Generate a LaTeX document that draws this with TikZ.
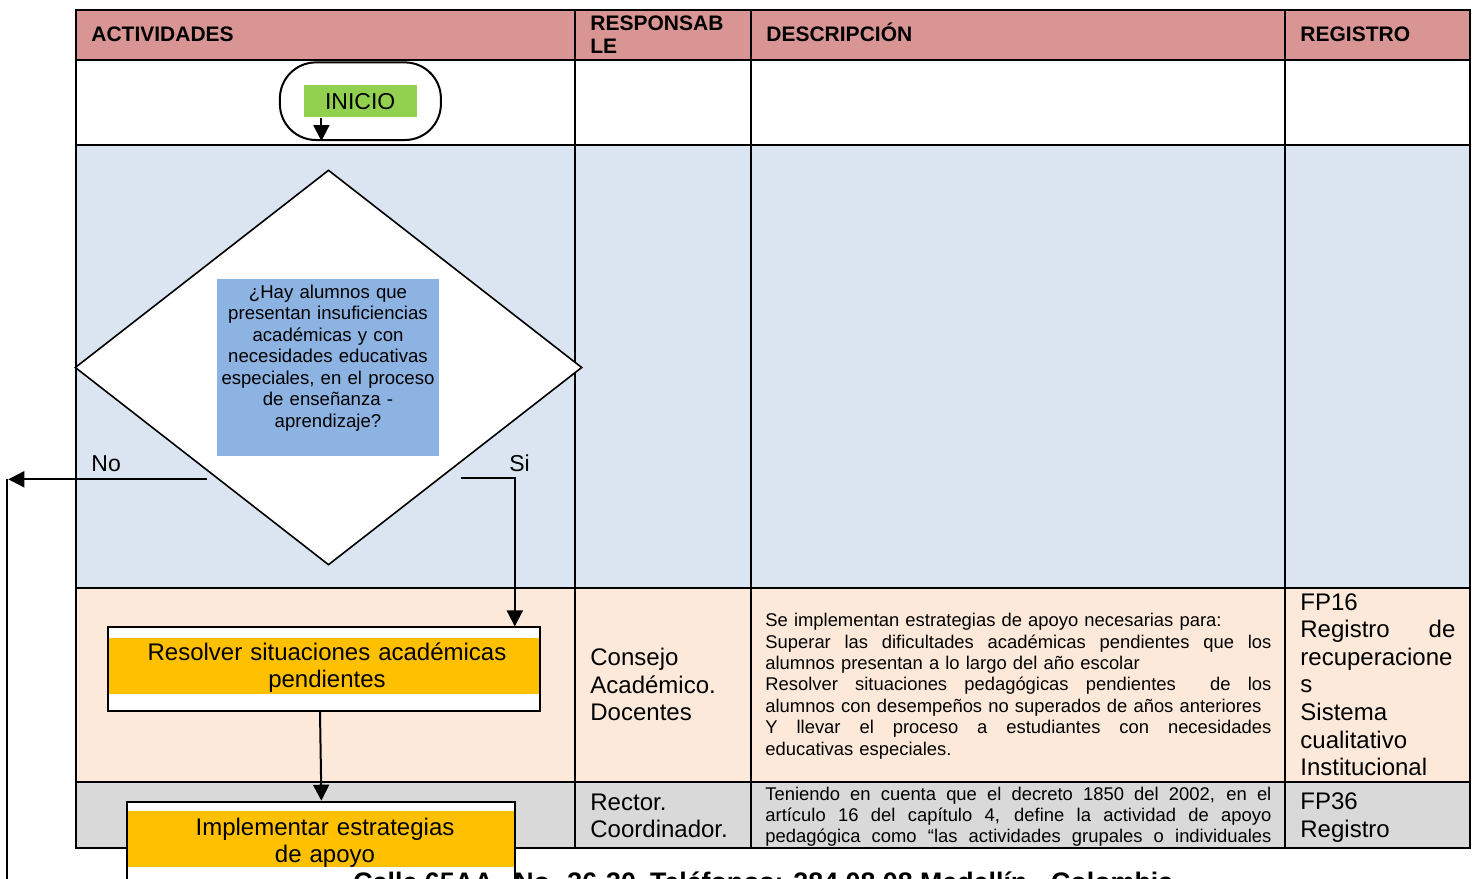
\documentclass[tikz,border=0pt]{standalone}
\usepackage{fontspec}
\setmainfont{Liberation Sans}
\usetikzlibrary{shapes.geometric,arrows.meta}
\definecolor{hdr}{RGB}{217,149,148}
\definecolor{rowblue}{RGB}{219,229,241}
\definecolor{rowpeach}{RGB}{253,233,217}
\definecolor{rowgray}{RGB}{217,217,217}
\definecolor{inigreen}{RGB}{146,208,80}
\definecolor{actorange}{RGB}{255,192,0}
\definecolor{qblue}{RGB}{141,179,226}
\newcommand\jbox[2]{\makebox[#1][s]{\spaceskip=0pt\relax\xspaceskip=0pt\relax #2}}
\newcommand\jl[1]{\jbox{253pt}{#1}}
\begin{document}
\begin{tikzpicture}[x=0.5pt,y=-0.5pt,
  grid/.style={line width=1.3pt},
  conn/.style={line width=1pt},
  arr/.style={line width=1pt,-{Triangle[length=8pt,width=8pt]}},
  hdrtext/.style={font=\fontsize{10.5}{11.4}\selectfont\bfseries, anchor=base west, inner sep=0, text width=90pt, align=left},
  desc/.style={font=\fontsize{9.2}{10.7}\selectfont, anchor=base west, inner sep=0, text width=253pt, align=left},
  big/.style={font=\fontsize{12}{13.8}\selectfont, anchor=base west, inner sep=0, text width=80pt, align=left},
  lbl/.style={font=\fontsize{11.5}{13}\selectfont, anchor=base west, inner sep=0},
  acttext/.style={font=\fontsize{12}{13.9}\selectfont, anchor=base, inner sep=0, text width=210pt, align=center},
  band/.style={fill=actorange, inner sep=0}
]
\useasboundingbox (0,0) rectangle (1477,878);
% row fills
\fill[hdr] (76,10) rectangle (1470,60);
\fill[white] (76,60) rectangle (1470,145);
\fill[rowblue] (76,145) rectangle (1470,588);
\fill[rowpeach] (76,588) rectangle (1470,782);
\fill[rowgray] (76,782) rectangle (1470,848);

% row 4 description (clipped by the row border)
\node[desc] (desc4) at (765,800) {\jl{Teniendo en cuenta que el decreto 1850 del 2002, en el}\\\jl{artículo 16 del capítulo 4, define la actividad de apoyo}\\\jl{pedagógica como “las actividades grupales o individuales}};

% grid
\draw[grid] (76,10) rectangle (1470,848);
\foreach \y in {60,145,588,782} \draw[grid] (76,\y) -- (1470,\y);
\foreach \x in {575,751,1285} \draw[grid] (\x,10) -- (\x,848);

% headers
\node[hdrtext] (hAct) at (91,41.7) {ACTIVIDADES};
\node[hdrtext] (hResp) at (590,30.7) {RESPONSAB\\LE};
\node[hdrtext] (hDesc) at (766,41.7) {DESCRIPCIÓN};
\node[hdrtext] (hReg) at (1300,41.7) {REGISTRO};

% INICIO
\node[draw, line width=1pt, fill=white, rounded corners=18pt, minimum width=80.5pt, minimum height=38.8pt, inner sep=0] (oval) at (360.4,101.2) {};
\node[fill=inigreen, minimum width=56.7pt, minimum height=16.1pt, inner sep=0, font=\fontsize{11.5}{13}\selectfont] (inicio) at (360.2,101.2) {INICIO};
\draw[arr] ([xshift=-19.4pt]inicio.south) -- ([xshift=-19.5pt]oval.south);

% decision
\node[draw, line width=0.8pt, fill=white, diamond, minimum width=253.5pt, minimum height=197.5pt, inner sep=0] (decision) at (328.5,367.5) {};
\node[fill=qblue, minimum width=111pt, minimum height=88.4pt, inner sep=0] (qbox) at (328.3,367.7) {};
\node[font=\fontsize{9.3}{10.75}\selectfont, anchor=base, inner sep=0, text width=110pt, align=center] (qtext) at (328,298.3) {¿Hay alumnos que\\presentan insuficiencias\\académicas y con\\necesidades educativas\\especiales, en el proceso\\de enseñanza -\\aprendizaje?};

\node[lbl] (noLabel) at (91,471.5) {No};
\node[lbl] (siLabel) at (509,471.5) {Si};
\coordinate (noStart) at (207,479.3);
\coordinate (noEnd) at (8.3,479.3);
\coordinate (loopTop) at (7.3,478.5);
\coordinate (loopBottom) at (7.3,900);
\coordinate (siStart) at (460.5,477.7);

% Resolver
\node[draw, line width=1pt, fill=white, minimum width=216.4pt, minimum height=41.8pt, inner sep=0] (resolverbox) at (324,669.2) {};
\node[band, minimum width=215.4pt, minimum height=28.2pt] (resolverband) at (324,665.9) {};
\node[acttext] (resolver) at (327,660) {Resolver situaciones académicas\\pendientes};

% Implementar
\node[draw, line width=1pt, fill=white, minimum width=194pt, minimum height=50pt, inner sep=0, anchor=north] (implbox) at (321,800.7) {};
\node[band, minimum width=193pt, minimum height=28.3pt] (implband) at (321,839) {};
\node[acttext] (impl) at (325,835) {Implementar estrategias\\de apoyo};

% connectors
\draw[arr] (noStart) -- (noEnd);
\draw[conn] (loopBottom) -- (loopTop);
\draw[arr] (siStart) -| ([xshift=95.4pt]resolverbox.north);
\draw[arr] ([xshift=-2pt]resolverbox.south) -- ([xshift=0.2pt]implbox.north);

% responsables
\node[big] (resp3) at (590,665.5) {Consejo\\Académico.\\Docentes};
\node[big] (resp4) at (590,810) {Rector.\\Coordinador.};

% description row 3
\node[desc] (desc3) at (765,626.7) {Se implementan estrategias de apoyo necesarias para:\\\jl{Superar las dificultades académicas pendientes que los}\\alumnos presentan a lo largo del año escolar\\\jl{Resolver situaciones pedagógicas pendientes \ de los}\\alumnos con desempeños no superados de años anteriores\\\jl{Y llevar el proceso a estudiantes con necesidades}\\educativas especiales.};

% registro
\node[big] (reg3) at (1300,610) {FP16\\\jbox{77.5pt}{Registro de}\\recuperacione\\s\\Sistema\\cualitativo\\Institucional};
\node[big] (reg4) at (1300,809.5) {FP36\\Registro};

% footer
\node[font=\fontsize{13.4}{15}\selectfont\bfseries, anchor=base west, inner sep=0] (footer) at (353,891) {Calle 65AA\hspace{10.5pt}No. 36-30\hspace{7pt}Teléfonos: 284 08 08 Medellín - Colombia};
\end{tikzpicture}
\end{document}
